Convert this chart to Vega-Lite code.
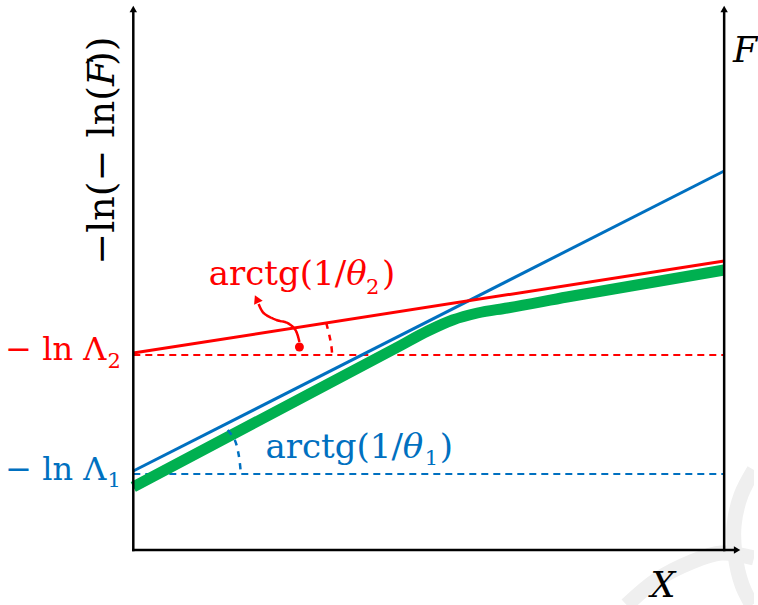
{
  "$schema": "https://vega.github.io/schema/vega-lite/v6.json",
  "width": 758,
  "height": 605,
  "autosize": {"type": "fit", "contains": "padding"},
  "padding": 0,
  "background": "white",
  "config": {"view": {"stroke": null}},
  "datasets": {
    "lines": [
      {"s": "wmA", "i": 0, "x": 496, "y": -55},
      {"s": "wmA", "i": 1, "x": 526, "y": -30},
      {"s": "wmA", "i": 2, "x": 561, "y": -12},
      {"s": "wmA", "i": 3, "x": 591, "y": -3},
      {"s": "wmA", "i": 4, "x": 624, "y": -8},
      {"s": "wmB", "i": 0, "x": 624, "y": 80},
      {"s": "wmB", "i": 1, "x": 611, "y": 55},
      {"s": "wmB", "i": 2, "x": 604, "y": 25},
      {"s": "wmB", "i": 3, "x": 605, "y": -5},
      {"s": "wmB", "i": 4, "x": 612, "y": -35},
      {"s": "wmB", "i": 5, "x": 622, "y": -55},
      {"s": "guide2", "i": 0, "x": 0, "y": 195},
      {"s": "guide2", "i": 1, "x": 594, "y": 195},
      {"s": "guide1", "i": 0, "x": 0, "y": 76},
      {"s": "guide1", "i": 1, "x": 594, "y": 76},
      {"s": "fit", "i": 0, "x": 0, "y": 63},
      {"s": "fit", "i": 1, "x": 266, "y": 203},
      {"s": "fit", "i": 2, "x": 296, "y": 219},
      {"s": "fit", "i": 3, "x": 321, "y": 230},
      {"s": "fit", "i": 4, "x": 346, "y": 237},
      {"s": "fit", "i": 5, "x": 376, "y": 242},
      {"s": "fit", "i": 6, "x": 436, "y": 253},
      {"s": "fit", "i": 7, "x": 594, "y": 280},
      {"s": "line1", "i": 0, "x": 0, "y": 79},
      {"s": "line1", "i": 1, "x": 594, "y": 379},
      {"s": "line2", "i": 0, "x": 0, "y": 197},
      {"s": "line2", "i": 1, "x": 594, "y": 289},
      {"s": "angle2", "i": 0, "x": 194, "y": 227},
      {"s": "angle2", "i": 1, "x": 197, "y": 215},
      {"s": "angle2", "i": 2, "x": 199, "y": 205},
      {"s": "angle2", "i": 3, "x": 200, "y": 195},
      {"s": "angle1", "i": 0, "x": 95, "y": 120},
      {"s": "angle1", "i": 1, "x": 102, "y": 110},
      {"s": "angle1", "i": 2, "x": 106, "y": 95},
      {"s": "angle1", "i": 3, "x": 108, "y": 78},
      {"s": "pointer", "i": 0, "x": 167, "y": 208},
      {"s": "pointer", "i": 1, "x": 163, "y": 220},
      {"s": "pointer", "i": 2, "x": 155, "y": 227},
      {"s": "pointer", "i": 3, "x": 144, "y": 230},
      {"s": "pointer", "i": 4, "x": 131, "y": 237},
      {"s": "pointer", "i": 5, "x": 126, "y": 246},
      {"s": "axisLeft", "i": 0, "x": 0, "y": 0},
      {"s": "axisLeft", "i": 1, "x": 0, "y": 538},
      {"s": "axisRight", "i": 0, "x": 594, "y": 0},
      {"s": "axisRight", "i": 1, "x": 594, "y": 538},
      {"s": "axisBottom", "i": 0, "x": 0, "y": 0},
      {"s": "axisBottom", "i": 1, "x": 604, "y": 0}
    ],
    "heads": [
      {"s": "up", "x": 0, "y": 541},
      {"s": "up", "x": 594, "y": 541},
      {"s": "right", "x": 607, "y": 0},
      {"s": "pointer", "x": 124, "y": 251},
      {"s": "dot", "x": 167, "y": 203}
    ],
    "labels": [
      {"s": "ytitle", "t": "−ln(− ln(", "x": -30, "y": 464},
      {"s": "ytitleVar", "t": "F", "x": -30, "y": 464},
      {"s": "ytitleEnd", "t": "))", "x": -30, "y": 484},
      {"s": "axisVar", "t": "F", "x": 603, "y": 488},
      {"s": "axisVar", "t": "X", "x": 520, "y": -47},
      {"s": "redLevel", "t": "− ln Λ", "x": -27, "y": 190},
      {"s": "redSub", "t": "2", "x": -26, "y": 182},
      {"s": "blueLevel", "t": "− ln Λ", "x": -27, "y": 70},
      {"s": "blueSub", "t": "1", "x": -26, "y": 63},
      {"s": "redMain", "t": "arctg(1/", "x": 214, "y": 265},
      {"s": "redTheta", "t": "θ", "x": 214, "y": 265},
      {"s": "redSubL", "t": "2", "x": 234, "y": 256},
      {"s": "redParen", "t": ")", "x": 250, "y": 265},
      {"s": "blueMain", "t": "arctg(1/", "x": 271, "y": 92},
      {"s": "blueTheta", "t": "θ", "x": 271, "y": 92},
      {"s": "blueSubL", "t": "1", "x": 293, "y": 85},
      {"s": "blueParen", "t": ")", "x": 308, "y": 92}
    ]
  },
  "encoding": {
    "x": {"field": "x", "type": "quantitative", "scale": {"domain": [-134, 624], "nice": false, "zero": false}, "axis": null},
    "y": {"field": "y", "type": "quantitative", "scale": {"domain": [-55, 550], "nice": false, "zero": false}, "axis": null}
  },
  "layer": [
    {
      "data": {"name": "lines"},
      "transform": [{"filter": "indexof(['wmA','wmB'], datum.s) >= 0"}],
      "mark": {"type": "line", "color": "#efefef", "strokeWidth": 15, "interpolate": "catmull-rom", "clip": true},
      "encoding": {"detail": {"field": "s"}, "order": {"field": "i"}}
    },
    {
      "data": {"name": "lines"},
      "transform": [{"filter": "datum.s == 'guide2'"}],
      "mark": {"type": "line", "color": "#ff0000", "strokeWidth": 1.8, "strokeDash": [7, 5]},
      "encoding": {"order": {"field": "i"}}
    },
    {
      "data": {"name": "lines"},
      "transform": [{"filter": "datum.s == 'guide1'"}],
      "mark": {"type": "line", "color": "#0070c0", "strokeWidth": 1.8, "strokeDash": [7, 5]},
      "encoding": {"order": {"field": "i"}}
    },
    {
      "data": {"name": "lines"},
      "transform": [{"filter": "datum.s == 'fit'"}],
      "mark": {"type": "line", "color": "#00b050", "strokeWidth": 11, "interpolate": "monotone", "strokeCap": "butt"},
      "encoding": {"order": {"field": "i"}}
    },
    {
      "data": {"name": "lines"},
      "transform": [{"filter": "datum.s == 'line1'"}],
      "mark": {"type": "line", "color": "#0070c0", "strokeWidth": 3},
      "encoding": {"order": {"field": "i"}}
    },
    {
      "data": {"name": "lines"},
      "transform": [{"filter": "datum.s == 'line2'"}],
      "mark": {"type": "line", "color": "#ff0000", "strokeWidth": 3},
      "encoding": {"order": {"field": "i"}}
    },
    {
      "data": {"name": "lines"},
      "transform": [{"filter": "datum.s == 'angle2' || datum.s == 'pointer'"}],
      "mark": {"type": "line", "color": "#ff0000", "strokeWidth": 2.5, "interpolate": "catmull-rom"},
      "encoding": {
        "detail": {"field": "s"},
        "order": {"field": "i"},
        "strokeDash": {"field": "s", "type": "nominal", "scale": {"domain": ["angle2", "pointer"], "range": [[6, 6], [1, 0]]}, "legend": null}
      }
    },
    {
      "data": {"name": "lines"},
      "transform": [{"filter": "datum.s == 'angle1'"}],
      "mark": {"type": "line", "color": "#0070c0", "strokeWidth": 2.5, "strokeDash": [6, 6], "interpolate": "catmull-rom"},
      "encoding": {"order": {"field": "i"}}
    },
    {
      "data": {"name": "lines"},
      "transform": [{"filter": "indexof(['axisLeft','axisRight','axisBottom'], datum.s) >= 0"}],
      "mark": {"type": "line", "color": "#000000", "strokeWidth": 2.5, "strokeCap": "square"},
      "encoding": {"detail": {"field": "s"}, "order": {"field": "i"}}
    },
    {
      "data": {"name": "heads"},
      "transform": [{"filter": "datum.s == 'up'"}],
      "mark": {"type": "point", "shape": "triangle-up", "filled": true, "color": "#000000", "size": 55, "opacity": 1}
    },
    {
      "data": {"name": "heads"},
      "transform": [{"filter": "datum.s == 'right'"}],
      "mark": {"type": "point", "shape": "triangle-right", "filled": true, "color": "#000000", "size": 55, "opacity": 1}
    },
    {
      "data": {"name": "heads"},
      "transform": [{"filter": "datum.s == 'pointer'"}],
      "mark": {"type": "point", "shape": "triangle-up", "filled": true, "color": "#ff0000", "size": 90, "angle": -25, "opacity": 1}
    },
    {
      "data": {"name": "heads"},
      "transform": [{"filter": "datum.s == 'dot'"}],
      "mark": {"type": "point", "shape": "circle", "filled": true, "color": "#ff0000", "size": 80, "opacity": 1}
    },
    {
      "data": {"name": "labels"},
      "transform": [{"filter": "datum.s == 'ytitle'"}],
      "mark": {"type": "text", "font": "DejaVu Serif", "fontSize": 38, "angle": 270, "color": "#000000", "align": "right", "baseline": "middle"},
      "encoding": {"text": {"field": "t"}}
    },
    {
      "data": {"name": "labels"},
      "transform": [{"filter": "datum.s == 'ytitleVar'"}],
      "mark": {"type": "text", "font": "DejaVu Serif", "fontStyle": "italic", "fontSize": 38, "angle": 270, "color": "#000000", "align": "left", "baseline": "middle"},
      "encoding": {"text": {"field": "t"}}
    },
    {
      "data": {"name": "labels"},
      "transform": [{"filter": "datum.s == 'ytitleEnd'"}],
      "mark": {"type": "text", "font": "DejaVu Serif", "fontSize": 38, "angle": 270, "color": "#000000", "align": "left", "baseline": "middle"},
      "encoding": {"text": {"field": "t"}}
    },
    {
      "data": {"name": "labels"},
      "transform": [{"filter": "datum.s == 'axisVar'"}],
      "mark": {"type": "text", "font": "DejaVu Serif", "fontStyle": "italic", "fontSize": 35, "color": "#000000", "align": "left", "baseline": "alphabetic"},
      "encoding": {"text": {"field": "t"}}
    },
    {
      "data": {"name": "labels"},
      "transform": [{"filter": "datum.s == 'redLevel'"}],
      "mark": {"type": "text", "font": "DejaVu Serif", "fontSize": 32, "color": "#ff0000", "align": "right", "baseline": "alphabetic"},
      "encoding": {"text": {"field": "t"}}
    },
    {
      "data": {"name": "labels"},
      "transform": [{"filter": "datum.s == 'redMain'"}],
      "mark": {"type": "text", "font": "DejaVu Serif", "fontSize": 34, "color": "#ff0000", "align": "right", "baseline": "alphabetic"},
      "encoding": {"text": {"field": "t"}}
    },
    {
      "data": {"name": "labels"},
      "transform": [{"filter": "datum.s == 'redTheta'"}],
      "mark": {"type": "text", "font": "DejaVu Serif", "fontStyle": "italic", "fontSize": 34, "color": "#ff0000", "align": "left", "baseline": "alphabetic"},
      "encoding": {"text": {"field": "t"}}
    },
    {
      "data": {"name": "labels"},
      "transform": [{"filter": "datum.s == 'redSub' || datum.s == 'redSubL'"}],
      "mark": {"type": "text", "font": "DejaVu Serif", "fontSize": 21, "color": "#ff0000", "align": "left", "baseline": "alphabetic"},
      "encoding": {"text": {"field": "t"}}
    },
    {
      "data": {"name": "labels"},
      "transform": [{"filter": "datum.s == 'redParen'"}],
      "mark": {"type": "text", "font": "DejaVu Serif", "fontSize": 34, "color": "#ff0000", "align": "left", "baseline": "alphabetic"},
      "encoding": {"text": {"field": "t"}}
    },
    {
      "data": {"name": "labels"},
      "transform": [{"filter": "datum.s == 'blueLevel'"}],
      "mark": {"type": "text", "font": "DejaVu Serif", "fontSize": 32, "color": "#0070c0", "align": "right", "baseline": "alphabetic"},
      "encoding": {"text": {"field": "t"}}
    },
    {
      "data": {"name": "labels"},
      "transform": [{"filter": "datum.s == 'blueMain'"}],
      "mark": {"type": "text", "font": "DejaVu Serif", "fontSize": 34, "color": "#0070c0", "align": "right", "baseline": "alphabetic"},
      "encoding": {"text": {"field": "t"}}
    },
    {
      "data": {"name": "labels"},
      "transform": [{"filter": "datum.s == 'blueTheta'"}],
      "mark": {"type": "text", "font": "DejaVu Serif", "fontStyle": "italic", "fontSize": 34, "color": "#0070c0", "align": "left", "baseline": "alphabetic"},
      "encoding": {"text": {"field": "t"}}
    },
    {
      "data": {"name": "labels"},
      "transform": [{"filter": "datum.s == 'blueSub' || datum.s == 'blueSubL'"}],
      "mark": {"type": "text", "font": "DejaVu Serif", "fontSize": 21, "color": "#0070c0", "align": "left", "baseline": "alphabetic"},
      "encoding": {"text": {"field": "t"}}
    },
    {
      "data": {"name": "labels"},
      "transform": [{"filter": "datum.s == 'blueParen'"}],
      "mark": {"type": "text", "font": "DejaVu Serif", "fontSize": 34, "color": "#0070c0", "align": "left", "baseline": "alphabetic"},
      "encoding": {"text": {"field": "t"}}
    }
  ]
}
